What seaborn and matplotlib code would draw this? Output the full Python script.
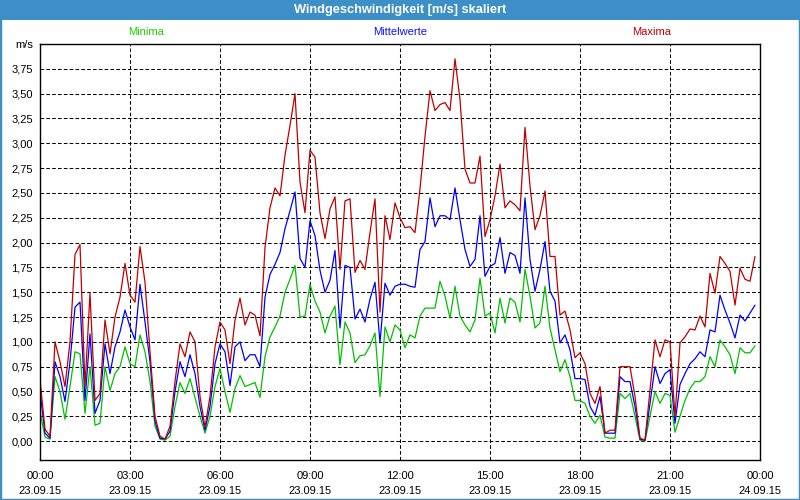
import numpy as np
import pandas as pd
import matplotlib
matplotlib.use("Agg")
import matplotlib.pyplot as plt
import matplotlib.dates as mdates
from matplotlib.ticker import FuncFormatter, FixedLocator
from matplotlib.patches import Rectangle
import seaborn as sns

# ===================== Daten (10-Minuten-Werte, 23.09.15) =====================
maxima = [
    0.62, 0.12, 0.05, 1.00, 0.80, 0.55, 1.00, 1.88, 1.98, 0.55, 1.49, 0.41,
    0.48, 1.22, 0.88, 1.25, 1.45, 1.79, 1.47, 1.40, 1.96, 1.60, 0.90, 0.25,
    0.05, 0.02, 0.15, 0.60, 0.98, 0.85, 1.10, 1.00, 0.45, 0.14, 0.45, 0.95,
    1.20, 1.12, 0.78, 1.22, 1.44, 1.17, 1.30, 1.27, 1.06, 1.95, 2.35, 2.55,
    2.47, 2.88, 3.18, 3.50, 2.61, 2.30, 2.93, 2.86, 2.30, 2.04, 2.34, 2.46,
    1.73, 2.42, 2.44, 1.70, 1.82, 1.73, 2.10, 2.44, 1.30, 2.27, 2.03, 2.40,
    2.25, 2.15, 2.16, 2.10, 2.54, 3.07, 3.53, 3.33, 3.39, 3.41, 3.33, 3.85,
    3.44, 2.74, 2.60, 2.60, 2.87, 2.06, 2.23, 2.47, 2.79, 2.35, 2.42, 2.38,
    2.32, 3.16, 2.57, 2.13, 2.27, 2.52, 1.86, 1.86, 1.27, 1.31, 1.12, 0.84,
    0.89, 0.78, 0.48, 0.38, 0.55, 0.08, 0.11, 0.11, 0.75, 0.75, 0.75, 0.45,
    0.03, 0.01, 0.52, 1.02, 0.85, 1.02, 1.00, 0.25, 0.99, 1.05, 1.13, 1.12,
    1.26, 1.15, 1.69, 1.49, 1.86, 1.79, 1.71, 1.37, 1.74, 1.63, 1.61, 1.86,
]
mittel = [
    0.50, 0.08, 0.03, 0.80, 0.65, 0.40, 0.80, 1.35, 1.40, 0.41, 1.08, 0.28,
    0.41, 0.98, 0.68, 0.95, 1.10, 1.32, 1.15, 1.02, 1.58, 1.20, 0.80, 0.20,
    0.03, 0.02, 0.10, 0.50, 0.80, 0.65, 0.87, 0.68, 0.35, 0.11, 0.35, 0.78,
    0.98, 0.90, 0.56, 0.95, 1.00, 0.81, 0.87, 0.87, 0.75, 1.45, 1.68, 1.78,
    1.90, 2.14, 2.32, 2.51, 1.84, 1.75, 2.22, 2.07, 1.72, 1.50, 1.62, 1.92,
    1.14, 1.77, 1.75, 1.23, 1.33, 1.20, 1.43, 1.60, 0.99, 1.59, 1.47, 1.56,
    1.58, 1.58, 1.56, 1.55, 1.93, 2.01, 2.45, 2.16, 2.27, 2.27, 2.23, 2.55,
    2.23, 1.93, 1.76, 1.83, 2.27, 1.66, 1.76, 1.79, 2.05, 1.69, 1.90, 1.87,
    1.69, 2.45, 1.83, 1.51, 1.73, 2.01, 1.51, 1.41, 0.99, 1.07, 0.92, 0.63,
    0.63, 0.62, 0.35, 0.26, 0.45, 0.08, 0.08, 0.08, 0.65, 0.60, 0.60, 0.35,
    0.02, 0.01, 0.38, 0.75, 0.58, 0.68, 0.72, 0.18, 0.57, 0.68, 0.78, 0.83,
    0.90, 0.85, 1.12, 1.10, 1.47, 1.32, 1.19, 1.04, 1.27, 1.21, 1.29, 1.37,
]
minima = [
    0.30, 0.04, 0.02, 0.65, 0.50, 0.22, 0.55, 0.90, 0.88, 0.28, 0.75, 0.16,
    0.18, 0.75, 0.51, 0.68, 0.75, 0.95, 0.78, 0.75, 1.07, 0.90, 0.60, 0.15,
    0.02, 0.01, 0.05, 0.35, 0.59, 0.48, 0.63, 0.44, 0.25, 0.08, 0.25, 0.55,
    0.73, 0.50, 0.29, 0.53, 0.66, 0.55, 0.57, 0.59, 0.44, 0.85, 1.05, 1.15,
    1.26, 1.50, 1.63, 1.77, 1.25, 1.26, 1.58, 1.41, 1.30, 1.09, 1.26, 1.36,
    0.77, 1.20, 1.09, 0.79, 0.86, 0.87, 0.96, 1.09, 0.45, 1.15, 1.00, 1.17,
    1.12, 0.94, 1.07, 1.04, 1.26, 1.34, 1.34, 1.34, 1.61, 1.46, 1.24, 1.56,
    1.26, 1.17, 1.10, 1.22, 1.64, 1.26, 1.29, 1.09, 1.44, 1.19, 1.44, 1.40,
    1.20, 1.73, 1.46, 1.14, 1.19, 1.56, 1.14, 0.92, 0.70, 0.82, 0.65, 0.41,
    0.41, 0.38, 0.25, 0.18, 0.26, 0.04, 0.03, 0.03, 0.48, 0.43, 0.48, 0.25,
    0.01, 0.00, 0.25, 0.50, 0.38, 0.48, 0.46, 0.09, 0.25, 0.41, 0.53, 0.60,
    0.60, 0.65, 0.85, 0.75, 1.02, 0.95, 0.87, 0.68, 0.94, 0.89, 0.89, 0.96,
]
zeit = pd.date_range("2015-09-23 00:00", periods=len(maxima), freq="10min")

serien = ["Minima", "Mittelwerte", "Maxima"]
farben = {"Minima": "#00C000", "Mittelwerte": "#0000FF", "Maxima": "#C00000"}
text_farben = {"Minima": "#22CC00", "Mittelwerte": "#1010FF", "Maxima": "#C00000"}

df = pd.DataFrame({"zeit": zeit, "Minima": minima, "Mittelwerte": mittel, "Maxima": maxima})
df_long = df.melt(id_vars="zeit", var_name="serie", value_name="wert")

# ===================== Stil =====================
sns.set_style("white")
plt.rcParams["font.family"] = ["Liberation Sans", "DejaVu Sans"]
plt.rcParams["lines.scale_dashes"] = False

fig = plt.figure(figsize=(8, 5), dpi=100)
ax = fig.add_axes([40 / 800, 1 - 460 / 500, 720 / 800, 416 / 500])

sns.lineplot(data=df_long, x="zeit", y="wert", hue="serie", hue_order=serien,
             palette=farben, linewidth=0.9, legend=False, ax=ax)

start = pd.Timestamp("2015-09-23 00:00")
ende = pd.Timestamp("2015-09-24 00:00")
ax.set_xlim(start, ende)
ax.set_ylim(-0.19, 4.0)

# Achsen / Ticks
major = pd.date_range(start, ende, freq="3h")
minor = pd.date_range(start, ende, freq="1h")
ax.xaxis.set_major_locator(FixedLocator(mdates.date2num(major)))
ax.xaxis.set_minor_locator(FixedLocator(mdates.date2num(minor)))
ax.xaxis.set_major_formatter(mdates.DateFormatter("%H:%M\n%d.%m.%y"))
ax.yaxis.set_major_locator(FixedLocator(np.arange(0, 4.01, 0.25)))
ax.yaxis.set_major_formatter(FuncFormatter(
    lambda v, p: "m/s" if v > 3.99 else f"{v:.2f}".replace(".", ",")))

ax.tick_params(axis="both", which="major", direction="out", length=3, width=1,
               colors="black", labelsize=8, pad=2)
ax.tick_params(axis="x", which="minor", direction="out", length=3, width=1, colors="black")
ax.tick_params(axis="x", which="major", pad=5)
for lab in ax.get_xticklabels():
    lab.set_linespacing(1.6)

ax.grid(True, which="major", axis="both", color="black", linewidth=0.75,
        linestyle=(0, (2.6, 1.6)))
for sp in ax.spines.values():
    sp.set_visible(True)
    sp.set_color("black")
    sp.set_linewidth(1.0)

ax.set_xlabel("")
ax.set_ylabel("")

# Legende als farbige Texte ueber dem Diagramm
for xpos, name in zip([0.148, 0.5, 0.85], serien):
    ax.text(xpos, 1.0 + 12 / 416, name, transform=ax.transAxes, ha="center",
            va="center", fontsize=8, color=text_farben[name])

# Titelleiste + Fensterrahmen
blau = "#3D8FC8"
fig.patches.append(Rectangle((0, 1 - 20 / 500), 1, 20 / 500, transform=fig.transFigure,
                             facecolor=blau, edgecolor="none", zorder=0))
fig.patches.append(Rectangle((0, 0), 1, 1, transform=fig.transFigure, fill=False,
                             edgecolor=blau, linewidth=2.5, zorder=0))
fig.text(0.5, 1 - 10 / 500, "Windgeschwindigkeit [m/s] skaliert", ha="center",
         va="center", color="white", fontsize=9.2, fontweight="bold")

fig.savefig("out.png", dpi=100)
